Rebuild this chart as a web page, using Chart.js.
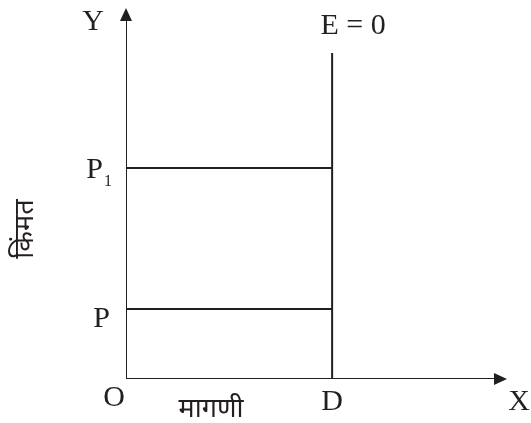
<!DOCTYPE html>
<html>
<head>
<meta charset="utf-8">
<script src="https://cdn.jsdelivr.net/npm/chart.js@4/dist/chart.umd.min.js"></script>
<style>
  html, body { margin: 0; padding: 0; background: #fff; }
  #wrap { width: 531px; height: 423px; position: relative; }
</style>
</head>
<body>
<div id="wrap"><canvas id="chart"></canvas></div>
<script>
// scale units: x 0..10 (O to X arrow), y 0..10 (O to Y arrow)
var axisMax = 10;
var demandD = 5.41;          // quantity D where supply E = 0 stands
var supplyTop = 8.79;        // top of the E = 0 line
var priceNames = ['P', 'P1'];
var priceValues = [1.89, 5.69];

var ink = '#231f20';
var serif = '"Liberation Serif", "Times New Roman", serif';

var line = (pts) => ({
  data: pts,
  showLine: true,
  borderColor: ink,
  borderWidth: 2,
  pointRadius: 0,
  fill: false,
});

var datasets = [
  line([{ x: 0, y: 0 }, { x: 0, y: axisMax - 0.3 }]),           // Y axis
  line([{ x: 0, y: 0 }, { x: axisMax - 0.3, y: 0 }]),           // X axis
  line([{ x: demandD, y: 0 }, { x: demandD, y: supplyTop }]),   // E = 0
];
for (const v of priceValues) {
  datasets.push(line([{ x: 0, y: v }, { x: demandD, y: v }]));
}

var labelsPlugin = {
  id: 'labels',
  afterDatasetsDraw(chart) {
    const ctx = chart.ctx;
    const xs = chart.scales.x, ys = chart.scales.y;
    const ox = xs.getPixelForValue(0), oy = ys.getPixelForValue(0);
    const tx = xs.getPixelForValue(axisMax), ty = ys.getPixelForValue(axisMax);
    ctx.save();
    ctx.fillStyle = ink;

    // arrow heads
    ctx.beginPath();
    ctx.moveTo(ox, ty);
    ctx.lineTo(ox - 6, ty + 13);
    ctx.lineTo(ox + 6, ty + 13);
    ctx.closePath();
    ctx.fill();
    ctx.beginPath();
    ctx.moveTo(tx, oy);
    ctx.lineTo(tx - 13, oy - 6);
    ctx.lineTo(tx - 13, oy + 6);
    ctx.closePath();
    ctx.fill();

    ctx.font = '30px ' + serif;
    ctx.textBaseline = 'alphabetic';
    ctx.textAlign = 'center';
    ctx.fillText('Y', ox - 33, ty + 22);
    ctx.fillText('O', ox - 12, oy + 27);
    ctx.fillText('X', tx + 12, oy + 31);
    const dx = xs.getPixelForValue(demandD);
    ctx.fillText('D', dx, oy + 31);
    ctx.fillText('E = 0', dx + 21, ys.getPixelForValue(supplyTop) - 19);

    ctx.textAlign = 'right';
    priceNames.forEach((name, i) => {
      const py = ys.getPixelForValue(priceValues[i]);
      if (name === 'P1') {
        ctx.font = '30px ' + serif;
        ctx.fillText('P', ox - 23, py + 10);
        ctx.font = '16px ' + serif;
        ctx.fillText('1', ox - 14, py + 18);
      } else {
        ctx.font = '30px ' + serif;
        ctx.fillText('P', ox - 16, py + 18);
      }
    });

    // axis titles
    ctx.font = '27px "Noto Sans", sans-serif';
    ctx.textAlign = 'center';
    ctx.fillText('मागणी', ox + 85, oy + 38);
    ctx.translate(24, 229);
    ctx.rotate(-Math.PI / 2);
    ctx.fillText('किंमत', 0, 9);
    ctx.restore();
  }
};

new Chart(document.getElementById('chart'), {
  type: 'scatter',
  data: { datasets: datasets },
  options: {
    responsive: true,
    maintainAspectRatio: false,
    animation: false,
    layout: { padding: { left: 126, right: 24, top: 8, bottom: 44 } },
    plugins: { legend: { display: false }, tooltip: { enabled: false } },
    scales: {
      x: { type: 'linear', min: 0, max: axisMax, display: false },
      y: { type: 'linear', min: 0, max: axisMax, display: false },
    },
  },
  plugins: [labelsPlugin],
});
</script>
</body>
</html>
